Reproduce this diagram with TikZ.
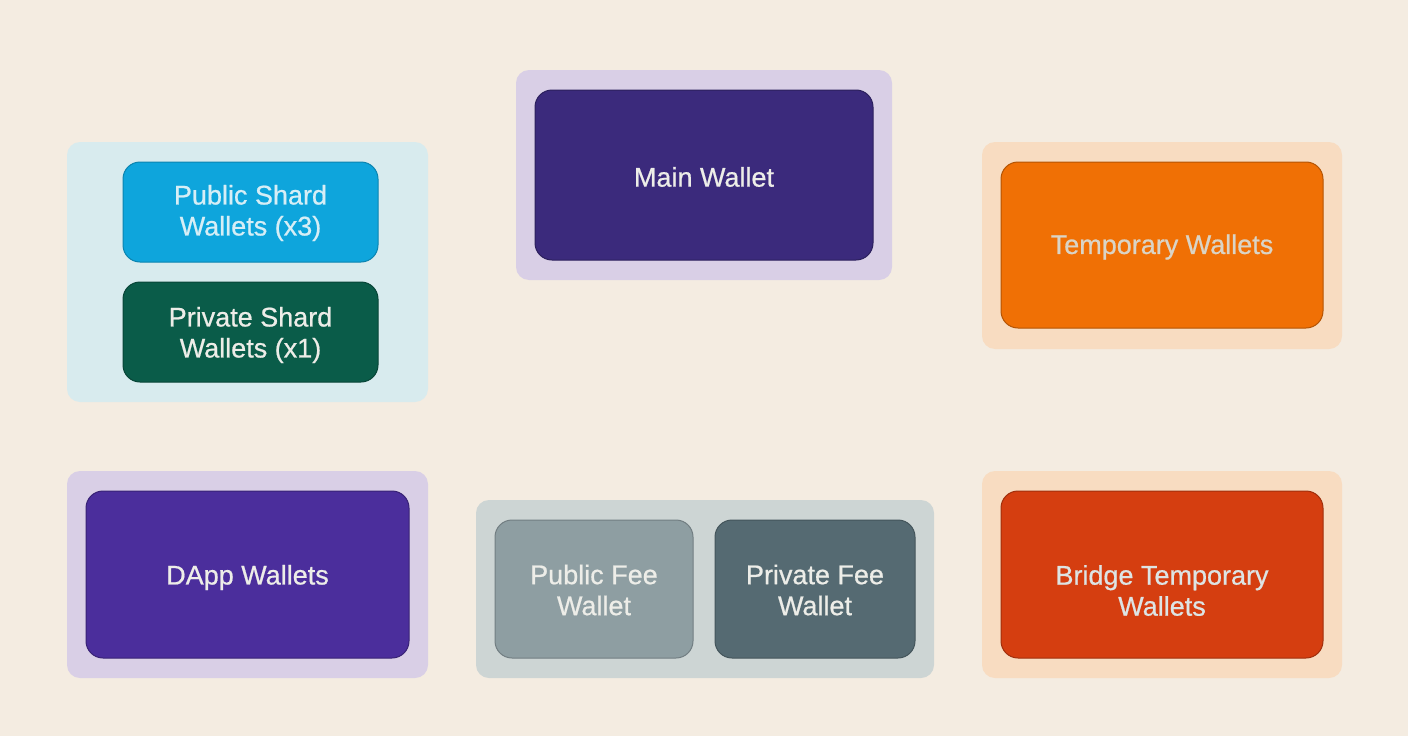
\documentclass[tikz,border=0pt]{standalone}
\usepackage{fontspec}
\setmainfont{Liberation Sans}
\newfontfamily\wfont{Liberation Sans}[FakeBold=0.7]
\definecolor{bgc}{HTML}{F4ECE1}
\definecolor{blueC}{HTML}{D8EBEE}
\definecolor{lavC}{HTML}{D9CFE6}
\definecolor{peachC}{HTML}{F8DCC1}
\definecolor{grayC}{HTML}{CDD5D4}
\definecolor{pubShard}{HTML}{0EA5DC}
\definecolor{privShard}{HTML}{0A5C49}
\definecolor{mainW}{HTML}{3B2A7C}
\definecolor{tempW}{HTML}{F07005}
\definecolor{dappW}{HTML}{4B2E9C}
\definecolor{pubFee}{HTML}{8E9EA2}
\definecolor{privFee}{HTML}{556A72}
\definecolor{bridgeW}{HTML}{D53E10}
\definecolor{txt}{HTML}{EDEDE8}
\definecolor{txtBlue}{HTML}{D6EEF6}
\definecolor{txtTemp}{HTML}{DAD4C6}
\definecolor{txtBridge}{HTML}{DDE4E4}
\tikzset{
  container/.style={draw=none, rounded corners=13pt, inner sep=0pt},
  wallet/.style={rounded corners=17pt, inner sep=0pt, line width=1pt},
  label/.style={inner sep=0pt, align=center, text=txt,
     font=\wfont\fontsize{27}{31}\selectfont},
}
\begin{document}
\begin{tikzpicture}[x=1pt,y=-1pt]
\fill[bgc] (0,0) rectangle (1408,736);
\useasboundingbox (0,0) rectangle (1408,736);
% containers
\node[container, fill=blueC, minimum width=361pt, minimum height=260pt] (g1) at (247.5,272) {};
\node[container, fill=lavC, minimum width=376pt, minimum height=210pt] (g2) at (704,175) {};
\node[container, fill=peachC, minimum width=360pt, minimum height=207pt] (g3) at (1162,245.5) {};
\node[container, fill=lavC, minimum width=361pt, minimum height=207pt] (g4) at (247.5,574.5) {};
\node[container, fill=grayC, minimum width=458pt, minimum height=178pt] (g5) at (705,589) {};
\node[container, fill=peachC, minimum width=360pt, minimum height=207pt] (g6) at (1162,574.5) {};
% wallets
\node[wallet, fill=pubShard, draw=pubShard!80!black, minimum width=255pt, minimum height=100pt] (ps) at (250.5,212) {};
\node[wallet, fill=privShard, draw=privShard!75!black, minimum width=255pt, minimum height=100pt] (pv) at (250.5,332) {};
\node[wallet, fill=mainW, draw=mainW!75!black, minimum width=338pt, minimum height=170pt] (mw) at (704,175) {};
\node[wallet, fill=tempW, draw=tempW!75!black, minimum width=322pt, minimum height=166pt] (tw) at (1162,245) {};
\node[wallet, fill=dappW, draw=dappW!75!black, minimum width=323pt, minimum height=167pt] (dw) at (247.5,574.5) {};
\node[wallet, fill=pubFee, draw=pubFee!80!black, minimum width=198pt, minimum height=138pt] (pf) at (594,589) {};
\node[wallet, fill=privFee, draw=privFee!80!black, minimum width=200pt, minimum height=138pt] (vf) at (815,589) {};
\node[wallet, fill=bridgeW, draw=bridgeW!75!black, minimum width=322pt, minimum height=167pt] (bw) at (1162,574.5) {};
% labels
\node[label, text=txtBlue] (ps-t) at ([yshift=-1pt]ps.center) {Public Shard\\Wallets (x3)};
\node[label] (pv-t) at ([yshift=-3pt]pv.center) {Private Shard\\Wallets (x1)};
\node[label] (mw-t) at ([yshift=-2pt]mw.center) {Main Wallet};
\node[label, text=txtTemp] (tw-t) at ([yshift=-2pt]tw.center) {Temporary Wallets};
\node[label] (dw-t) at ([yshift=-3pt]dw.center) {DApp Wallets};
\node[label] (pf-t) at ([yshift=-1pt]pf.center) {Public Fee\\Wallet};
\node[label] (vf-t) at ([yshift=-1pt]vf.center) {Private Fee\\Wallet};
\node[label, text=txtBridge] (bw-t) at ([yshift=-16pt]bw.center) {Bridge Temporary\\Wallets};
\end{tikzpicture}
\end{document}
